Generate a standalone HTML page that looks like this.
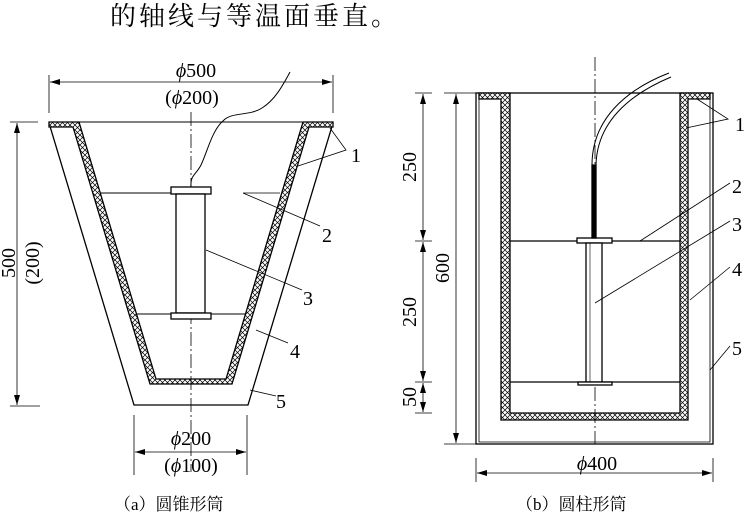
<!DOCTYPE html>
<html><head><meta charset="utf-8"><style>
html,body{margin:0;padding:0;background:#fff;width:746px;height:515px;overflow:hidden}
svg{display:block}
text{font-family:"Liberation Serif","Noto Serif CJK SC",serif;fill:#000}
.d{font-size:20px}
.c{font-size:17px}
</style></head><body>
<svg width="746" height="515" viewBox="0 0 746 515" xmlns="http://www.w3.org/2000/svg">
<defs>
<pattern id="h" width="5" height="5" patternUnits="userSpaceOnUse">
<rect width="5" height="5" fill="#fff"/>
<path d="M0 0L5 5M5 0L0 5" stroke="#000" stroke-width="0.7"/>
</pattern>
<marker id="a" viewBox="0 0 10 6" refX="10" refY="3" markerWidth="10" markerHeight="6" orient="auto-start-reverse" markerUnits="userSpaceOnUse"><path d="M0 0L10 3L0 6z" fill="#000"/></marker>
</defs>
<text x="110" y="25" style="font-size:26px;letter-spacing:3px">的轴线与等温面垂直。</text>

<g stroke="#000" fill="none" stroke-width="1.3">
<path d="M49 123L134 405L248 405L333 123"/>
<line x1="49" y1="122" x2="333" y2="122" stroke-width="1"/>
<path d="M49 122L79 122L156 379L226 379L303 122L333 122L333 127L309 127L232 384L150 384L73 127L49 127Z" fill="url(#h)"/>
<line x1="191" y1="112" x2="191" y2="472" stroke-width="0.8" stroke-dasharray="14,3,2,3"/>
<rect x="171" y="187" width="40" height="7" fill="#fff"/>
<rect x="176" y="194" width="29" height="119" fill="#fff"/>
<rect x="171" y="313" width="40" height="6" fill="#fff"/>
<line x1="100" y1="193" x2="171" y2="193" stroke-width="1"/>
<line x1="137" y1="314" x2="171" y2="314" stroke-width="1"/>
<line x1="211" y1="314" x2="245" y2="314" stroke-width="1"/>
<path d="M191 187C190 175 196 175 201 165C208 150 212 130 224 120C232 112 250 116 262 108C275 100 283 85 290 72" stroke-width="1"/>
<line x1="49" y1="75" x2="49" y2="113" stroke-width="0.8"/>
<line x1="333" y1="75" x2="333" y2="113" stroke-width="0.8"/>
<line x1="50" y1="82" x2="332" y2="82" stroke-width="0.8" marker-start="url(#a)" marker-end="url(#a)"/>
<line x1="10" y1="122" x2="38" y2="122" stroke-width="0.8"/>
<line x1="10" y1="406" x2="40" y2="406" stroke-width="0.8"/>
<line x1="17" y1="123" x2="17" y2="405" stroke-width="0.8" marker-start="url(#a)" marker-end="url(#a)"/>
<line x1="134" y1="415" x2="134" y2="475" stroke-width="0.8"/>
<line x1="247" y1="415" x2="247" y2="475" stroke-width="0.8"/>
<line x1="135" y1="452" x2="246" y2="452" stroke-width="0.8" marker-start="url(#a)" marker-end="url(#a)"/>
<g stroke-width="0.8">
<path d="M330 128L346 150L298 166"/>
<path d="M243 193L280 193M243 193L320 226"/>
<path d="M206 250L302 290"/>
<path d="M256 330L288 343"/>
<path d="M250 390L276 396"/>
</g>

<rect x="476" y="93" width="237" height="351"/>
<path d="M479 97L479 442L710 442L710 97" stroke-width="0.8"/>
<path d="M479 93L510 93L510 413L680 413L680 93L710 93L710 99L688 99L688 420L501 420L501 99L479 99Z" fill="url(#h)"/>
<line x1="510" y1="93" x2="680" y2="93" stroke-width="1"/>
<line x1="595" y1="57" x2="595" y2="444" stroke-width="0.8" stroke-dasharray="14,3,2,3"/>
<line x1="510" y1="241" x2="680" y2="241"/>
<line x1="510" y1="382" x2="680" y2="382"/>
<rect x="577" y="238" width="35" height="5" fill="#fff"/>
<rect x="586" y="243" width="16" height="139" fill="#fff"/>
<line x1="590" y1="243" x2="590" y2="382" stroke-width="0.6"/>
<rect x="578" y="382" width="34" height="3" fill="#fff"/>
<rect x="592" y="165" width="4" height="73" fill="#000"/>
<path d="M592 165C592 120 625 90 669 73M596 165C597 123 628 95 671 77" stroke-width="1"/>
<line x1="415" y1="93" x2="432" y2="93" stroke-width="0.8"/>
<line x1="415" y1="241" x2="432" y2="241" stroke-width="0.8"/>
<line x1="415" y1="382" x2="432" y2="382" stroke-width="0.8"/>
<line x1="415" y1="413" x2="432" y2="413" stroke-width="0.8"/>
<line x1="423" y1="94" x2="423" y2="240" stroke-width="0.8" marker-start="url(#a)" marker-end="url(#a)"/>
<line x1="423" y1="242" x2="423" y2="381" stroke-width="0.8" marker-start="url(#a)" marker-end="url(#a)"/>
<line x1="423" y1="383" x2="423" y2="412" stroke-width="0.8" marker-start="url(#a)" marker-end="url(#a)"/>
<line x1="444" y1="93" x2="476" y2="93" stroke-width="0.8"/>
<line x1="444" y1="444" x2="476" y2="444" stroke-width="0.8"/>
<line x1="456" y1="94" x2="456" y2="443" stroke-width="0.8" marker-start="url(#a)" marker-end="url(#a)"/>
<line x1="476" y1="458" x2="476" y2="482" stroke-width="0.8"/>
<line x1="713" y1="458" x2="713" y2="482" stroke-width="0.8"/>
<line x1="477" y1="473" x2="712" y2="473" stroke-width="0.8" marker-start="url(#a)" marker-end="url(#a)"/>
<g stroke-width="0.8">
<path d="M697 99L728 119L686 128"/>
<path d="M640 241L730 183"/>
<path d="M595 303L730 221"/>
<path d="M690 300L730 267"/>
<path d="M710 370L730 346"/>
</g>
</g>

<text class="d" x="196" y="77" text-anchor="middle"><tspan font-style="italic">ϕ</tspan>500</text>
<text class="d" x="192" y="104" text-anchor="middle">(<tspan font-style="italic">ϕ</tspan>200)</text>
<text class="d" transform="translate(15,263) rotate(-90)" text-anchor="middle">500</text>
<text class="d" transform="translate(39,263) rotate(-90)" text-anchor="middle">(200)</text>
<text class="d" x="191" y="445" text-anchor="middle"><tspan font-style="italic">ϕ</tspan>200</text>
<text class="d" x="191" y="472" text-anchor="middle">(<tspan font-style="italic">ϕ</tspan>100)</text>
<text class="d" x="351" y="162">1</text>
<text class="d" x="322" y="242">2</text>
<text class="d" x="303" y="305">3</text>
<text class="d" x="290" y="358">4</text>
<text class="d" x="276" y="408">5</text>
<text class="d" transform="translate(416,167) rotate(-90)" text-anchor="middle">250</text>
<text class="d" transform="translate(416,312) rotate(-90)" text-anchor="middle">250</text>
<text class="d" transform="translate(416,397) rotate(-90)" text-anchor="middle">50</text>
<text class="d" transform="translate(449,268) rotate(-90)" text-anchor="middle">600</text>
<text class="d" x="597" y="470" text-anchor="middle"><tspan font-style="italic">ϕ</tspan>400</text>
<text class="d" x="735" y="131">1</text>
<text class="d" x="732" y="193">2</text>
<text class="d" x="732" y="231">3</text>
<text class="d" x="732" y="276">4</text>
<text class="d" x="732" y="355">5</text>
<text class="c" x="114" y="510">（a）圆锥形筒</text>
<text class="c" x="516" y="510">（b）圆柱形筒</text>
</svg>
</body></html>
